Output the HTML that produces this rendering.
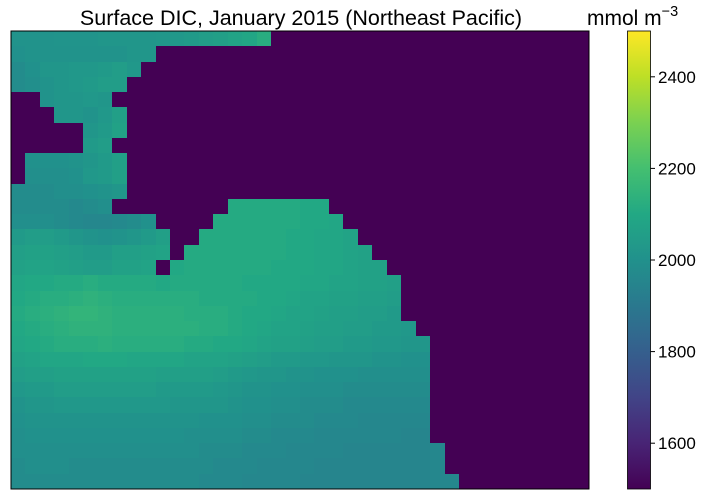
<!DOCTYPE html>
<html><head><meta charset="utf-8"><style>
html,body{margin:0;padding:0;background:#fff;}
svg{display:block;font-family:"Liberation Sans","DejaVu Sans",sans-serif;}
</style></head><body>
<svg id="chart" width="704" height="501" viewBox="0 0 704 501">
<defs><linearGradient id="cbgrad" x1="0" y1="1" x2="0" y2="0"></linearGradient></defs>
<text x="301" y="25" font-size="21.5" text-anchor="middle" fill="#000">Surface DIC, January 2015 (Northeast Pacific)</text>
<g id="cells" shape-rendering="crispEdges"></g>
<rect x="11" y="31" width="578" height="458" fill="none" stroke="#000" stroke-width="1"/>
<rect x="627.5" y="31" width="23" height="458" fill="url(#cbgrad)" stroke="#000" stroke-width="0.8"/>
<g id="cbticks"></g>
<text x="587" y="25" font-size="21" fill="#000">mmol m<tspan dy="-9" font-size="14.5">−3</tspan></text>
</svg>
<script>
const L = 1500;
const vmin = 1500, vmax = 2500;
const cbTicks = [1600, 1800, 2000, 2200, 2400];
const row0 = [2010,2010,2010,2015,2015,2015,2020,2020,2020,2020,2025,2030,2040,2050,2060,2080,2090,2120];
const row1 = [2000,2010,2010,2010,2010,2010,2010,2010,2020,2020];
const row2 = [1980,2000,2020,2020,2030,2030,2040,2050,2030];
const row3 = [1980,1990,2010,2020,2030,2040,2050,2050];
const row4 = [L,L,2010,2020,2020,2030,2020];
const row5 = [L,L,L,2020,2020,2010,2030,2060];
const row6 = [L,L,L,L,L,2020,2040,2070];
const row7 = [L,L,L,L,L,2040,2050];
const row8 = [L,2000,2000,2000,2010,2020,2040,2060];
const row9 = [L,1990,1990,1990,2000,2030,2040,2060];
const row10 = [1980,1980,1980,1990,1990,2000,2010,2020];
const row11 = [1980,1980,1980,1980,1970,1980,1990,L,L,L,L,L,L,L,L,2110,2110,2110,2110,2110,2100,2100];
const row12 = [1990,1990,1990,1980,1970,1960,1960,1970,1980,2000,L,L,L,L,2110,2110,2110,2110,2110,2110,2100,2100,2090];
const row13 = [2040,2050,2050,2040,2020,2010,2000,2010,2020,2040,2060,L,L,2110,2110,2110,2110,2110,2110,2100,2100,2090,2090,2080];
const row14 = [2060,2070,2070,2060,2050,2040,2040,2060,2060,2070,2080,L,2110,2110,2110,2110,2110,2110,2110,2100,2100,2090,2090,2080,2070];
const row15 = [2070,2080,2080,2070,2060,2050,2050,2070,2070,2080,L,2100,2110,2110,2110,2110,2110,2110,2100,2100,2100,2090,2090,2080,2070,2070];
const row16 = [2090,2100,2100,2110,2110,2120,2110,2110,2110,2110,2100,2110,2110,2110,2110,2110,2100,2100,2100,2100,2090,2090,2080,2080,2070,2070,2060];
const row17 = [2100,2110,2120,2120,2130,2140,2130,2120,2120,2120,2120,2120,2120,2110,2110,2110,2110,2100,2100,2090,2080,2080,2070,2070,2060,2060,2050];
const row18 = [2110,2120,2130,2140,2150,2150,2140,2130,2130,2130,2130,2130,2120,2120,2120,2110,2100,2100,2090,2080,2080,2070,2060,2060,2050,2050,2040];
const row19 = [2100,2110,2120,2130,2140,2140,2140,2130,2130,2130,2130,2130,2130,2120,2120,2110,2100,2090,2080,2080,2070,2060,2060,2050,2050,2040,2040,2030];
const row20 = [2090,2100,2110,2120,2120,2120,2130,2120,2120,2120,2120,2120,2110,2110,2100,2100,2090,2080,2070,2070,2060,2050,2050,2040,2040,2030,2030,2020,2020];
const row21 = [2070,2080,2090,2090,2090,2100,2100,2100,2090,2090,2090,2090,2080,2080,2080,2070,2060,2050,2040,2040,2030,2030,2020,2020,2020,2010,2010,2000,2000];
const row22 = [2050,2060,2060,2070,2070,2070,2070,2070,2070,2070,2060,2060,2060,2060,2050,2040,2030,2020,2020,2010,2010,2000,2000,2000,1990,1990,1990,1990,1990];
const row23 = [2030,2040,2040,2050,2050,2050,2050,2050,2050,2050,2040,2040,2040,2040,2030,2020,2010,2010,2000,2000,1990,1990,1990,1980,1980,1980,1980,1980,1980];
const row24 = [2010,2020,2020,2030,2030,2030,2030,2030,2030,2030,2030,2020,2020,2020,2020,2010,2000,2000,1990,1990,1980,1980,1980,1970,1970,1970,1970,1970,1970];
const row25 = [2000,2010,2010,2010,2010,2010,2010,2010,2010,2010,2010,2010,2010,2000,2000,2000,1990,1990,1980,1980,1980,1970,1970,1970,1960,1960,1960,1960,1960];
const row26 = [1990,2000,2000,2000,2000,2000,2000,2000,2000,2000,2000,2000,1990,1990,1990,1990,1980,1980,1970,1970,1970,1960,1960,1960,1960,1960,1960,1950,1950];
const row27 = [1990,1990,1990,1990,1990,1990,1990,1990,1990,1990,1990,1990,1990,1980,1980,1980,1970,1970,1970,1960,1960,1960,1960,1950,1950,1950,1950,1950,1950,1960];
const row28 = [1980,1990,1990,1990,1980,1980,1980,1980,1980,1980,1980,1980,1980,1980,1970,1970,1970,1960,1960,1960,1960,1950,1950,1950,1950,1950,1950,1950,1950,1960];
const row29 = [1980,1980,1980,1980,1980,1980,1980,1980,1980,1980,1980,1980,1980,1970,1970,1970,1960,1960,1960,1960,1950,1950,1950,1950,1950,1950,1950,1950,1950,1960,1960];
const gridRows = [row0,row1,row2,row3,row4,row5,row6,row7,row8,row9,row10,row11,row12,row13,row14,row15,row16,row17,row18,row19,row20,row21,row22,row23,row24,row25,row26,row27,row28,row29];

const NCOL = 40, NROW = 30;
const PX0 = 11, PX1 = 589, PY0 = 31, PY1 = 489;
const CB_Y0 = 31, CB_Y1 = 489;
const VIR = ["#440154","#482475","#414487","#355f8d","#2a788e","#21918c","#22a884","#44bf70","#7ad151","#bddf26","#fde725"];
function hex2rgb(h){return [parseInt(h.substr(1,2),16),parseInt(h.substr(3,2),16),parseInt(h.substr(5,2),16)];}
function viridis(t){
  t = Math.max(0, Math.min(1, t));
  const p = t * (VIR.length - 1), i = Math.min(VIR.length - 2, Math.floor(p)), f = p - i;
  const a = hex2rgb(VIR[i]), b = hex2rgb(VIR[i + 1]);
  return "rgb(" + a.map((v, k) => Math.round(v + (b[k] - v) * f)).join(",") + ")";
}
function colorOf(v){ return viridis((v - vmin) / (vmax - vmin)); }
function xScale(c){ return PX0 + c * (PX1 - PX0) / NCOL; }
function yScale(r){ return PY0 + r * (PY1 - PY0) / NROW; }
function cbScale(v){ return CB_Y1 - (v - vmin) / (vmax - vmin) * (CB_Y1 - CB_Y0); }

const NS = "http://www.w3.org/2000/svg";
const cells = document.getElementById("cells");
for (let r = 0; r < NROW; r++) {
  for (let c = 0; c < NCOL; c++) {
    const v = c < gridRows[r].length ? gridRows[r][c] : L;
    const rect = document.createElementNS(NS, "rect");
    const x = Math.round(xScale(c)), y = Math.round(yScale(r));
    rect.setAttribute("x", x);
    rect.setAttribute("y", y);
    rect.setAttribute("width", Math.round(xScale(c + 1)) - x);
    rect.setAttribute("height", Math.round(yScale(r + 1)) - y);
    rect.setAttribute("fill", colorOf(v));
    
    
    cells.appendChild(rect);
  }
}
const grad = document.getElementById("cbgrad");
for (let i = 0; i <= 20; i++) {
  const s = document.createElementNS(NS, "stop");
  s.setAttribute("offset", (i / 20));
  s.setAttribute("stop-color", viridis(i / 20));
  grad.appendChild(s);
}
const tg = document.getElementById("cbticks");
cbTicks.forEach(v => {
  const y = cbScale(v);
  const ln = document.createElementNS(NS, "line");
  ln.setAttribute("x1", 650.5); ln.setAttribute("x2", 655);
  ln.setAttribute("y1", y); ln.setAttribute("y2", y);
  ln.setAttribute("stroke", "#000");
  
  
  tg.appendChild(ln);
  const t = document.createElementNS(NS, "text");
  t.setAttribute("x", 658); t.setAttribute("y", y + 6);
  t.setAttribute("font-size", "17");
  t.textContent = v;
  
  
  tg.appendChild(t);
});
</script>
</body></html>
